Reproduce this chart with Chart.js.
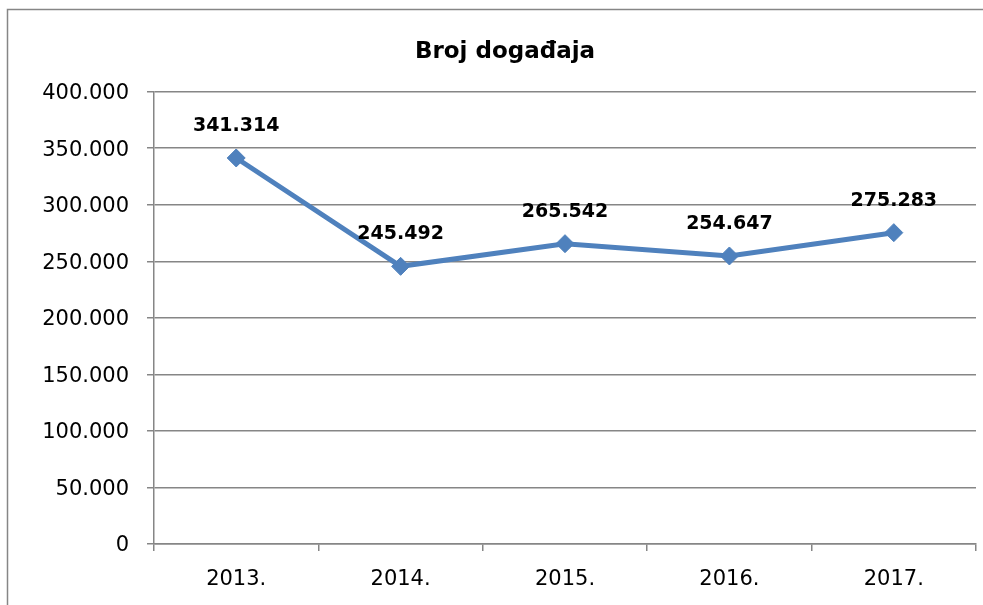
<!DOCTYPE html>
<html>
<head>
<meta charset="utf-8">
<script src="https://cdn.jsdelivr.net/npm/chart.js@4"></script>
<style>
  html, body { margin: 0; padding: 0; background: #fff; overflow: hidden; }
  canvas { display: block; }
</style>
</head>
<body>
<canvas id="c" width="983" height="605"></canvas>
<script>
const titleText = 'Broj događaja';
const categories = ['2013.', '2014.', '2015.', '2016.', '2017.'];
const values = [341314, 245492, 265542, 254647, 275283];
const yTicks = [0, 50000, 100000, 150000, 200000, 250000, 300000, 350000, 400000];

function fmt(v) {
  const s = Math.round(v).toString();
  return s.replace(/\B(?=(\d{3})+(?!\d))/g, '.');
}

const blue = '#4F81BD';
const grid = '#868686';

const framePlugin = {
  id: 'frame',
  beforeDraw(chart) {
    const ctx = chart.ctx;
    ctx.save();
    ctx.fillStyle = '#fff';
    ctx.fillRect(0, 0, chart.width, chart.height);
    ctx.strokeStyle = '#868686';
    ctx.lineWidth = 1.5;
    ctx.beginPath();
    ctx.moveTo(7.5, chart.height);
    ctx.lineTo(7.5, 9.5);
    ctx.lineTo(chart.width, 9.5);
    ctx.stroke();
    ctx.restore();
  }
};

const labelPlugin = {
  id: 'pointLabels',
  afterDatasetsDraw(chart) {
    const ctx = chart.ctx;
    const meta = chart.getDatasetMeta(0);
    ctx.save();
    ctx.font = 'bold 19px "DejaVu Sans"';
    ctx.fillStyle = '#000';
    ctx.textAlign = 'center';
    ctx.textBaseline = 'middle';
    meta.data.forEach((pt, i) => {
      ctx.fillText(fmt(values[i]), pt.x, pt.y - 32);
    });
    ctx.restore();
  }
};

new Chart(document.getElementById('c'), {
  type: 'line',
  data: {
    labels: categories,
    datasets: [{
      data: values,
      borderColor: blue,
      backgroundColor: blue,
      borderWidth: 5,
      tension: 0,
      pointStyle: 'rectRot',
      pointRadius: 9,
      pointBorderWidth: 1,
      pointBackgroundColor: blue,
      pointBorderColor: blue
    }]
  },
  options: {
    responsive: false,
    animation: false,
    devicePixelRatio: 1,
    layout: { autoPadding: false, padding: { left: 34, right: 7, top: 0, bottom: 1 } },
    plugins: {
      legend: { display: false },
      tooltip: { enabled: false },
      title: {
        display: true,
        text: titleText,
        color: '#000',
        font: { family: '"DejaVu Sans"', size: 23, weight: 'bold', lineHeight: 1.2 },
        padding: { top: 38, bottom: 26 }
      }
    },
    scales: {
      x: {
        type: 'category',
        offset: true,
        afterFit(scale) { scale.height = 60; scale.paddingLeft = 0; scale.paddingRight = 0; },
        grid: { display: true, drawOnChartArea: false, drawTicks: true, tickLength: 7, color: grid, lineWidth: 1.5, offset: true },
        border: { display: true, color: grid, width: 1.5 },
        ticks: { color: '#000', font: { family: '"DejaVu Sans"', size: 21 }, padding: 16, maxRotation: 0 }
      },
      y: {
        min: 0,
        max: 400000,
        afterFit(scale) { scale.width = 120; },
        afterBuildTicks(scale) { scale.ticks = yTicks.map(v => ({ value: v })); },
        grid: { color: grid, lineWidth: 1.5, tickLength: 7, drawTicks: true },
        border: { display: true, color: grid, width: 1.5 },
        ticks: {
          color: '#000',
          font: { family: '"DejaVu Sans"', size: 21 },
          padding: 18,
          labelOffset: 2,
          callback: (v) => fmt(v)
        }
      }
    }
  },
  plugins: [framePlugin, labelPlugin]
});
</script>
</body>
</html>
